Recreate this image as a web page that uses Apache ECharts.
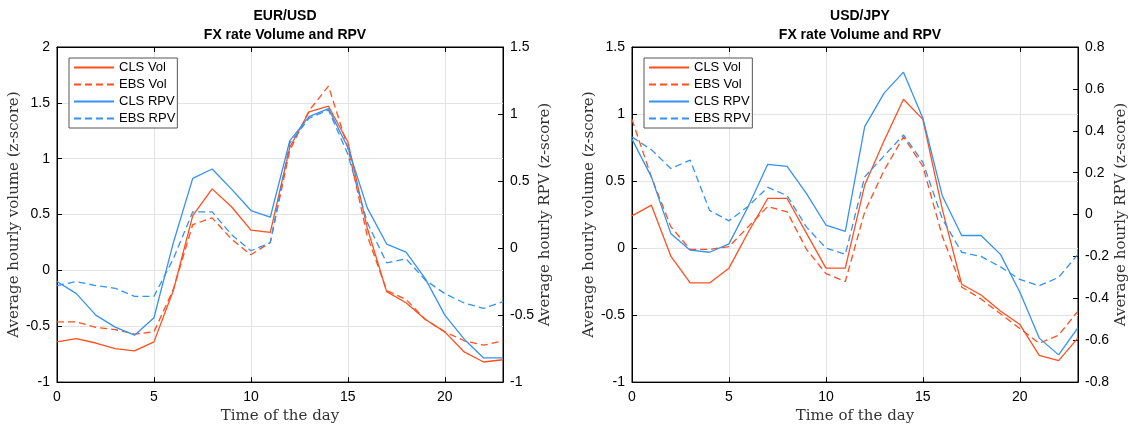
<!DOCTYPE html>
<html>
<head>
<meta charset="utf-8">
<script src="https://cdn.jsdelivr.net/npm/echarts@6/dist/echarts.min.js"></script>
<style>
  html, body { margin: 0; padding: 0; background: #fff; }
  #chart { width: 1135px; height: 429px; }
</style>
</head>
<body>
<div id="chart"></div>
<script>
// ---- data ----
const hours = [0, 1, 2, 3, 4, 5, 6, 7, 8, 9, 10, 11, 12, 13, 14, 15, 16, 17, 18, 19, 20, 21, 22, 23]

// EUR/USD
const eurClsVol = [-0.64, -0.61, -0.65, -0.70, -0.72, -0.64, -0.18, 0.49, 0.73, 0.57, 0.36, 0.34, 1.10, 1.42, 1.47, 1.15, 0.38, -0.19, -0.29, -0.44, -0.55, -0.73, -0.82, -0.80]
const eurEbsVol = [-0.46, -0.46, -0.51, -0.53, -0.57, -0.55, -0.17, 0.41, 0.47, 0.28, 0.14, 0.25, 1.07, 1.43, 1.65, 1.10, 0.31, -0.18, -0.26, -0.44, -0.55, -0.63, -0.67, -0.63]
const eurClsRpv = [-0.25, -0.34, -0.50, -0.59, -0.65, -0.52, 0.04, 0.52, 0.59, 0.44, 0.28, 0.23, 0.80, 0.98, 1.04, 0.75, 0.30, 0.03, -0.03, -0.23, -0.50, -0.68, -0.82, -0.82]
const eurEbsRpv = [-0.28, -0.25, -0.28, -0.30, -0.36, -0.36, -0.08, 0.27, 0.27, 0.10, -0.02, 0.04, 0.78, 0.97, 1.03, 0.70, 0.19, -0.11, -0.08, -0.24, -0.34, -0.41, -0.45, -0.40]

// USD/JPY
const jpyClsVol = [0.24, 0.32, -0.06, -0.26, -0.26, -0.15, 0.12, 0.37, 0.37, 0.11, -0.15, -0.15, 0.47, 0.80, 1.11, 0.96, 0.29, -0.27, -0.35, -0.47, -0.57, -0.80, -0.84, -0.67]
const jpyEbsVol = [0.96, 0.53, 0.16, -0.01, -0.01, 0.01, 0.16, 0.31, 0.27, -0.01, -0.19, -0.25, 0.27, 0.58, 0.83, 0.61, 0.09, -0.29, -0.38, -0.49, -0.60, -0.71, -0.65, -0.47]
const jpyClsRpv = [0.36, 0.18, -0.09, -0.17, -0.18, -0.14, 0.04, 0.24, 0.23, 0.10, -0.05, -0.08, 0.42, 0.58, 0.68, 0.46, 0.09, -0.10, -0.10, -0.19, -0.37, -0.59, -0.67, -0.54]
const jpyEbsRpv = [0.37, 0.31, 0.22, 0.26, 0.02, -0.03, 0.04, 0.13, 0.09, -0.06, -0.16, -0.19, 0.18, 0.28, 0.38, 0.25, -0.02, -0.18, -0.20, -0.25, -0.31, -0.34, -0.30, -0.19]

const xTicksInterval = 5

// ---- style ----
const ORANGE = '#FF4F1E'
const BLUE = '#3592F2'
const SANS = 'Liberation Sans'
const SERIF = 'DejaVu Serif'
const DASH = [7, 4]

const grids = [
  { left: 57, top: 47, width: 446, height: 341 },
  { left: 632, top: 47, width: 446, height: 341 },
]

function pairs(vals) {
  return hours.map((h, i) => [h, vals[i]])
}

function bottomX(gi) {
  return {
    type: 'value', gridIndex: gi, position: 'bottom', min: 0, max: 23, interval: xTicksInterval,
    name: 'Time of the day', nameLocation: 'middle', nameGap: 22,
    nameTextStyle: { fontFamily: SERIF, fontSize: 15, color: '#333' },
    axisLine: { show: true, onZero: false, lineStyle: { color: '#000', width: 1 } },
    axisTick: { show: true, inside: true, length: 5, lineStyle: { color: '#000' } },
    axisLabel: { fontFamily: SANS, fontSize: 14, color: '#000', margin: 8, showMaxLabel: false },
    splitLine: { show: true, lineStyle: { color: '#e3e3e3', width: 1 } },
  }
}

function topX(gi) {
  return {
    type: 'value', gridIndex: gi, position: 'top', min: 0, max: 23, interval: xTicksInterval,
    axisLine: { show: true, onZero: false, lineStyle: { color: '#000', width: 1 } },
    axisTick: { show: true, inside: true, length: 5, lineStyle: { color: '#000' } },
    axisLabel: { show: false },
    splitLine: { show: false },
  }
}

function yAx(gi, pos, min, max, step, name, gap, grid) {
  return {
    type: 'value', gridIndex: gi, position: pos, min: min, max: max, interval: step,
    name: name, nameLocation: 'middle', nameGap: gap, nameRotate: 90,
    nameTextStyle: { fontFamily: SERIF, fontSize: 15, color: '#333' },
    axisLine: { show: true, onZero: false, lineStyle: { color: '#000', width: 1 } },
    axisTick: { show: true, inside: true, length: 5, lineStyle: { color: '#000' } },
    axisLabel: {
      fontFamily: SANS, fontSize: 14, color: '#000', margin: 7,
      formatter: v => String(Math.round(v * 10) / 10),
    },
    splitLine: { show: grid, lineStyle: { color: '#e3e3e3', width: 1 } },
  }
}

function line(name, xi, yi, vals, color, dashed) {
  return {
    name: name, type: 'line', xAxisIndex: xi, yAxisIndex: yi,
    data: pairs(vals), symbol: 'none', showSymbol: false, animation: false,
    lineStyle: { color: color, width: 1.3, type: dashed ? DASH : 'solid' },
    itemStyle: { color: color },
  }
}

function legendAt(left) {
  return {
    orient: 'vertical', left: left, top: 58,
    backgroundColor: '#fff', borderColor: '#555', borderWidth: 1,
    padding: [3, 2, 3, 4], itemGap: 4, itemWidth: 40, itemHeight: 12,
    itemStyle: { opacity: 0 },
    lineStyle: { width: 2 },
    textStyle: { fontFamily: SANS, fontSize: 13, color: '#000' },
    data: ['CLS Vol', 'EBS Vol', 'CLS RPV', 'EBS RPV'],
  }
}

const titleStyle = { fontFamily: SANS, fontSize: 14, fontWeight: 'bold', color: '#000', lineHeight: 19 }

const option = {
  backgroundColor: '#fff',
  animation: false,
  title: [
    { text: 'EUR/USD\nFX rate Volume and RPV', left: 280, top: 2, textAlign: 'center', textStyle: titleStyle },
    { text: 'USD/JPY\nFX rate Volume and RPV', left: 855, top: 2, textAlign: 'center', textStyle: titleStyle },
  ],
  legend: [legendAt(69), legendAt(644)],
  grid: grids.map(g => ({ ...g, show: true, borderColor: '#000', borderWidth: 1, backgroundColor: 'transparent' })),
  xAxis: [bottomX(0), topX(0), bottomX(1), topX(1)],
  yAxis: [
    yAx(0, 'left', -1, 2, 0.5, 'Average hourly volume (z-score)', 32, true),
    yAx(0, 'right', -1, 1.5, 0.5, 'Average hourly RPV (z-score)', 32, false),
    yAx(1, 'left', -1, 1.5, 0.5, 'Average hourly volume (z-score)', 35, true),
    yAx(1, 'right', -0.8, 0.8, 0.2, 'Average hourly RPV (z-score)', 36, false),
  ],
  series: [
    line('CLS Vol', 0, 0, eurClsVol, ORANGE, false),
    line('EBS Vol', 0, 0, eurEbsVol, ORANGE, true),
    line('CLS RPV', 0, 1, eurClsRpv, BLUE, false),
    line('EBS RPV', 0, 1, eurEbsRpv, BLUE, true),
    line('CLS Vol', 2, 2, jpyClsVol, ORANGE, false),
    line('EBS Vol', 2, 2, jpyEbsVol, ORANGE, true),
    line('CLS RPV', 2, 3, jpyClsRpv, BLUE, false),
    line('EBS RPV', 2, 3, jpyEbsRpv, BLUE, true),
  ],
}

const chart = echarts.init(document.getElementById('chart'), null, { renderer: 'canvas' })
chart.setOption(option)
</script>
</body>
</html>
